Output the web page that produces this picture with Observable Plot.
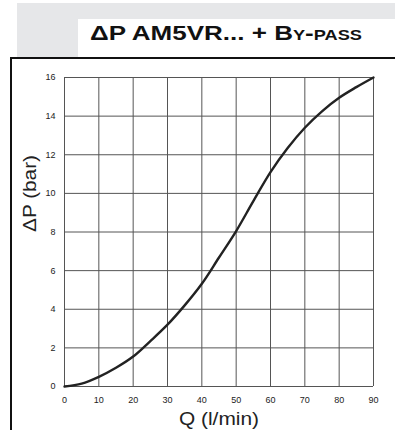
<!DOCTYPE html>
<html>
<head>
<meta charset="utf-8">
<script src="https://cdn.jsdelivr.net/npm/d3@7"></script>
<script src="https://cdn.jsdelivr.net/npm/@observablehq/plot@0.6"></script>
<style>
  html, body { margin: 0; padding: 0; background: #fff; }
  body { width: 395px; height: 430px; position: relative; overflow: hidden; font-family: "Liberation Sans", Arial, sans-serif; }
  #band { position: absolute; left: 17px; top: 3px; width: 378px; height: 54px; background: #e6e7e9; }
  #titlebox { position: absolute; left: 78px; top: 19px; width: 317px; height: 39px; background: #fff; }
  #title { position: absolute; left: 90px; top: 22px; font-size: 20px; font-weight: bold; color: #111; font-variant: small-caps; white-space: nowrap; transform: scaleX(1.3); transform-origin: 0 0; }
  #topline { position: absolute; left: 10px; top: 57px; width: 385px; height: 1.5px; background: #111; }
  #leftline { position: absolute; left: 10px; top: 57px; width: 1.5px; height: 373px; background: #111; }
  #chart { position: absolute; left: 0; top: 58px; }
</style>
</head>
<body>
<div id="band"></div>
<div id="titlebox"></div>
<div id="title">ΔP AM5VR... + By-pass</div>
<div id="topline"></div>
<div id="leftline"></div>
<div id="chart"></div>
<script>
const flowQ = [0, 5, 10, 15, 20, 25, 30, 35, 40, 45, 50, 55, 60, 65, 70, 75, 80, 85, 90];
const deltaP = [0, 0.15, 0.5, 0.97, 1.55, 2.35, 3.2, 4.2, 5.32, 6.68, 8.05, 9.6, 11.1, 12.35, 13.4, 14.25, 14.95, 15.5, 16.0];
const xTicks = [0, 10, 20, 30, 40, 50, 60, 70, 80, 90];
const yTicks = [0, 2, 4, 6, 8, 10, 12, 14, 16];
const xLabel = "Q (l/min)";
const yLabel = "ΔP (bar)";

const data = flowQ.map((q, i) => ({q, p: deltaP[i]}));

const chart = Plot.plot({
  width: 395,
  height: 372,
  marginLeft: 64,
  marginRight: 22,
  marginTop: 19,
  marginBottom: 44,
  style: {fontFamily: "'Liberation Sans', Arial, sans-serif", color: "#222", background: "transparent"},
  x: {domain: [0, 90], ticks: xTicks},
  y: {domain: [0, 16], ticks: yTicks},
  marks: [
    Plot.gridX(xTicks, {stroke: "#555", strokeOpacity: 1, strokeWidth: 1}),
    Plot.gridY(yTicks, {stroke: "#555", strokeOpacity: 1, strokeWidth: 1}),
    Plot.axisX(xTicks, {tickSize: 0, tickPadding: 10, fontSize: 9, label: null}),
    Plot.axisY(yTicks, {tickSize: 0, tickPadding: 9, fontSize: 9, label: null}),
    Plot.text([xLabel], {frameAnchor: "bottom", dy: 38, fontSize: 18, fill: "#222"}),
    Plot.text([yLabel], {frameAnchor: "left", rotate: -90, dx: -34, fontSize: 18, fill: "#222"}),
    Plot.line(data, {x: "q", y: "p", curve: "catmull-rom", stroke: "#222", strokeWidth: 2.4})
  ]
});
d3.select(chart).selectAll("text")
  .filter(function() { return this.textContent === xLabel; })
  .attr("textLength", 80).attr("lengthAdjust", "spacingAndGlyphs");
d3.select(chart).selectAll("text")
  .filter(function() { return this.textContent === yLabel; })
  .attr("textLength", 77).attr("lengthAdjust", "spacingAndGlyphs");
document.getElementById("chart").appendChild(chart);
</script>
</body>
</html>
